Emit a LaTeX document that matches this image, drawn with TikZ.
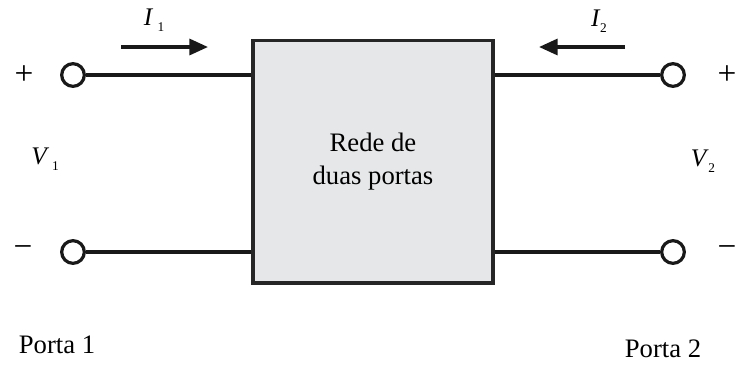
\documentclass[tikz,border=0pt]{standalone}
\usepackage{fontspec}
\setmainfont{Liberation Serif}
\usetikzlibrary{arrows.meta}
\definecolor{boxfill}{RGB}{230,231,233}
\newcommand{\portlabel}[3]{{\fontsize{19}{21}\selectfont\itshape #1}\kern#3\raisebox{-0.5ex}{\fontsize{10}{11}\selectfont #2}}
\begin{document}
\begin{tikzpicture}[x=0.75pt,y=-0.75pt,
  wire/.style={line width=2.5pt,black!90},
  terminal/.style={circle,draw=black!90,line width=2.4pt,fill=white,minimum size=17pt,inner sep=0pt},
  netbox/.style={draw=black!85,line width=2.5pt,fill=boxfill,minimum width=180pt,minimum height=182pt,inner sep=0pt,align=center,font=\fontsize{20}{25}\selectfont},
  current/.style={line width=2.5pt,black!90,-{Triangle[length=14pt,width=12pt]}},
  lbl/.style={inner sep=0pt,font=\fontsize{20}{24}\selectfont},
  sign/.style={inner sep=0pt,font=\fontsize{25}{28}\selectfont}]
\useasboundingbox (0,0) rectangle (735,365);
% two-port block
\node[netbox] (net) at (373,161.5) {Rede de\\duas portas};
% terminals
\node[terminal] (t1p) at (73,75) {};
\node[terminal] (t1m) at (73,252) {};
\node[terminal] (t2p) at (673,75) {};
\node[terminal] (t2m) at (673,252) {};
% leads
\draw[wire] (t1p.east) -- (net.west |- t1p);
\draw[wire] (t1m.east) -- (net.west |- t1m);
\draw[wire] (t2p.west) -- (net.east |- t2p);
\draw[wire] (t2m.west) -- (net.east |- t2m);
% current arrows
\coordinate (i1s) at (121,47);
\coordinate (i1e) at (208,47);
\coordinate (i2s) at (625,47);
\coordinate (i2e) at (539,47);
\draw[current] (i1s) -- (i1e);
\draw[current] (i2s) -- (i2e);
\node[lbl] (I1) at (154,20) {\portlabel{I}{1}{4pt}};
\node[lbl] (I2) at (599,21) {\portlabel{I}{2}{0.5pt}};
% polarity marks
\node[sign] (p1) at (24,75) {+};
\node[sign] (m1) at (23,252) {−};
\node[sign] (p2) at (727,75) {+};
\node[sign] (m2) at (727,252) {−};
% port voltages
\node[lbl] (V1) at (45,159) {\portlabel{V}{1}{4pt}};
\node[lbl] (V2) at (703,161) {\portlabel{V}{2}{1.5pt}};
% port names
\node[lbl] (P1) at (57,345) {Porta 1};
\node[lbl] (P2) at (663,349) {Porta 2};
\end{tikzpicture}
\end{document}
